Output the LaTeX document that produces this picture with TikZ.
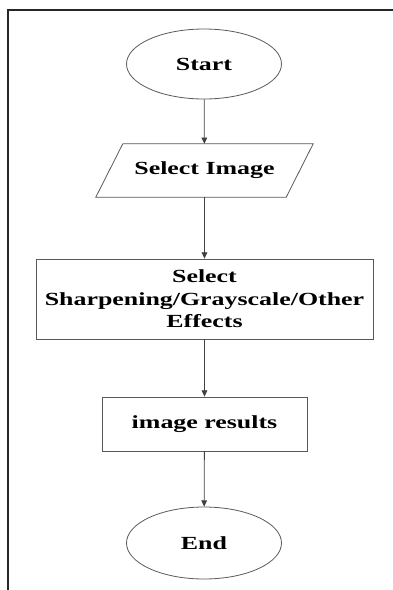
\documentclass[tikz,border=0pt]{standalone}
\usepackage{fontspec}
\setmainfont{Liberation Serif}[FakeStretch=1.4]
\usetikzlibrary{arrows.meta, shapes.geometric}
\tikzset{>={Triangle[length=2.2mm,width=2mm]}}
\tikzset{
  flowtext/.style = {font = \fontsize{18.5}{22.5}\selectfont\bfseries, text = black, inner sep = 0pt},
  terminal/.style = {flowtext, ellipse, draw = black!65, line width = 0.8pt, minimum width = 155pt, minimum height = 70pt},
  process/.style = {flowtext, rectangle, draw = black!65, line width = 0.8pt},
  outline/.style = {-, draw = black!65, line width = 0.8pt}
}

\begin{document}
\begin{tikzpicture}[x = 1pt, y = -1pt, ->, align = center]
      \useasboundingbox (0, 0) rectangle (392, 590);
      \draw[-, line width = 2pt, black!85] (8, 600) -- (8, 10) -- (400, 10);
      \node[terminal] (start) at (204, 64) {Start};
      \node[flowtext, minimum width = 190pt, minimum height = 53pt] (select_image) at (204.5, 170.5) {Select Image};
      \draw[outline] ([xshift = 13.5pt]select_image.north west) -- ([xshift = 13.5pt]select_image.north east)
        -- ([xshift = -13.5pt]select_image.south east) -- ([xshift = -13.5pt]select_image.south west) -- cycle;
      \node[process, minimum width = 337pt, minimum height = 80pt] (select_effect) at (204.5, 299) {Select\\Sharpening/Grayscale/Other\\Effects};
      \node[process, minimum width = 205pt, minimum height = 54pt] (image_results) at (204.5, 424) {image results};
      \node[terminal, minimum height = 72pt] (end) at (204, 543) {End};
      \draw[black!75, line width = 0.8pt] (start) -- (select_image);
      \draw[black!75, line width = 0.8pt] (select_image) -- (select_effect);
      \draw[black!75, line width = 0.8pt] (select_effect) -- (image_results);
      \draw[black!75, line width = 0.8pt] (image_results) -- (end);
    \end{tikzpicture}
\end{document}
